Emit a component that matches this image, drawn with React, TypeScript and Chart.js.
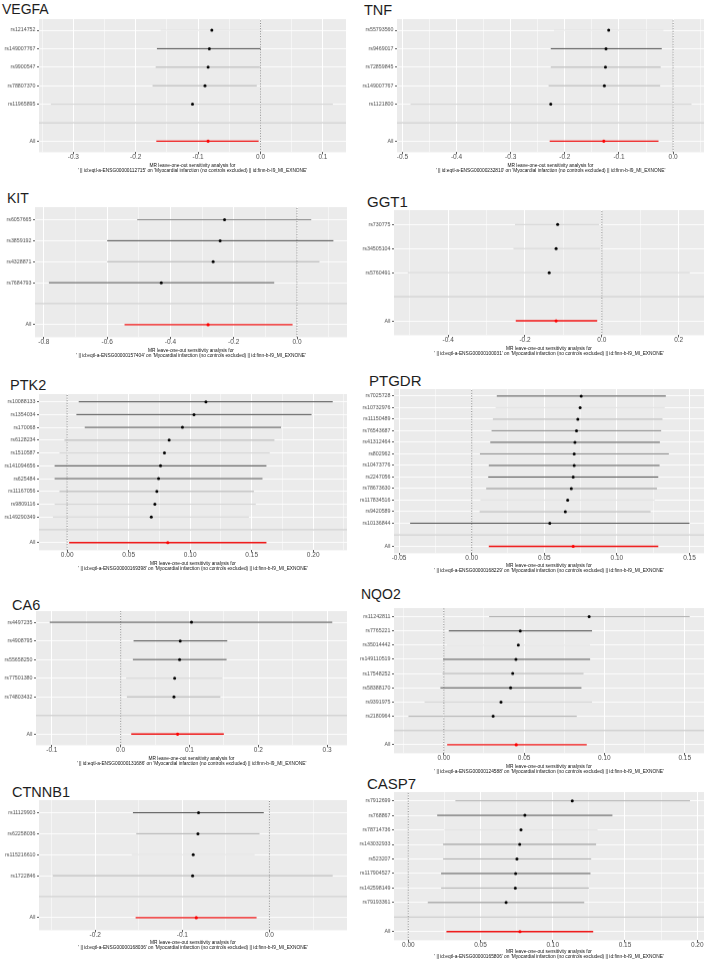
import React, { useEffect, useRef } from "react";
import { Chart, registerables } from "chart.js";
Chart.register(...registerables);

const FONT = "'Liberation Sans', Arial, Helvetica, sans-serif";

// ---------------- DATA ----------------
// VEGFA
const VEGFA_SNPS = ["rs1214752", "rs149007767", "rs9900547", "rs78807370", "rs11965895"];
const VEGFA_EST = [-0.078, -0.082, -0.084, -0.089, -0.109];
const VEGFA_LO = [-0.16, -0.166, -0.168, -0.173, -0.336];
const VEGFA_HI = [0.004, 0.0, -0.001, -0.006, 0.116];
const VEGFA_ALL = [-0.084, -0.167, -0.003];
const VEGFA_XTICKS = [-0.3, -0.2, -0.1, 0, 0.1];
const VEGFA_XRANGE = [-0.355, 0.137];

// TNF
const TNF_SNPS = ["rs55793560", "rs9469017", "rs72859845", "rs149007767", "rs1121800"];
const TNF_EST = [-0.119, -0.124, -0.125, -0.127, -0.226];
const TNF_LO = [-0.22, -0.226, -0.226, -0.23, -0.485];
const TNF_HI = [-0.018, -0.021, -0.023, -0.024, 0.034];
const TNF_ALL = [-0.128, -0.228, -0.027];
const TNF_XTICKS = [-0.5, -0.4, -0.3, -0.2, -0.1, 0];
const TNF_XRANGE = [-0.51, 0.057];

// KIT
const KIT_SNPS = ["rs6057665", "rs3859192", "rs4328871", "rs7684793"];
const KIT_EST = [-0.229, -0.243, -0.265, -0.429];
const KIT_LO = [-0.505, -0.6, -0.6, -0.784];
const KIT_HI = [0.045, 0.115, 0.071, -0.072];
const KIT_ALL = [-0.281, -0.545, -0.014];
const KIT_XTICKS = [-0.8, -0.6, -0.4, -0.2, 0];
const KIT_XRANGE = [-0.828, 0.158];

// GGT1
const GGT1_SNPS = ["rs730775", "rs34505104", "rs5760491"];
const GGT1_EST = [-0.115, -0.119, -0.137];
const GGT1_LO = [-0.226, -0.23, -0.505];
const GGT1_HI = [-0.007, -0.004, 0.229];
const GGT1_ALL = [-0.119, -0.224, -0.012];
const GGT1_XTICKS = [-0.4, -0.2, 0, 0.2];
const GGT1_XRANGE = [-0.541, 0.266];

// PTK2
const PTK2_SNPS = ["rs10088133", "rs1354034", "rs170068", "rs6128234", "rs1510587", "rs141094656", "rs625484", "rs11167056", "rs9809116", "rs149290349"];
const PTK2_EST = [0.1128, 0.1031, 0.0937, 0.0829, 0.0791, 0.0759, 0.0743, 0.0729, 0.0713, 0.0684];
const PTK2_LO = [0.0094, 0.0075, 0.0143, -0.0022, -0.0062, -0.0102, -0.0102, -0.0062, -0.0102, -0.0116];
const PTK2_HI = [0.2159, 0.1987, 0.1739, 0.1685, 0.1647, 0.162, 0.1588, 0.1518, 0.1534, 0.1478];
const PTK2_ALL = [0.0818, 0.0016, 0.162];
const PTK2_XTICKS = [0, 0.05, 0.1, 0.15, 0.2];
const PTK2_XRANGE = [-0.0229, 0.2275];

// PTGDR
const PTGDR_SNPS = ["rs7025728", "rs10732976", "rs11150489", "rs76543687", "rs41312464", "rs802962", "rs10473776", "rs2247056", "rs78673630", "rs117834516", "rs9420589", "rs10136844"];
const PTGDR_EST = [0.0754, 0.0747, 0.0731, 0.0722, 0.0711, 0.0706, 0.0706, 0.0699, 0.0686, 0.0661, 0.0645, 0.0538];
const PTGDR_LO = [0.0173, 0.0165, 0.0146, 0.0137, 0.0128, 0.0057, 0.0118, 0.0114, 0.01, 0.006, 0.0055, -0.0424];
const PTGDR_HI = [0.1337, 0.133, 0.1314, 0.1305, 0.1296, 0.1358, 0.1294, 0.1285, 0.1276, 0.126, 0.1232, 0.15];
const PTGDR_ALL = [0.0699, 0.0118, 0.1285];
const PTGDR_XTICKS = [-0.05, 0, 0.05, 0.1, 0.15];
const PTGDR_XRANGE = [-0.0535, 0.16];

// CA6
const CA6_SNPS = ["rs4497235", "rs4908795", "rs55658250", "rs77501380", "rs74803432"];
const CA6_EST = [0.103, 0.0866, 0.0857, 0.0785, 0.0775];
const CA6_LO = [-0.103, 0.0188, 0.0178, 0.008, 0.0091];
const CA6_HI = [0.3076, 0.155, 0.154, 0.148, 0.1449];
const CA6_ALL = [0.0828, 0.0154, 0.15];
const CA6_XTICKS = [-0.1, 0, 0.1, 0.2, 0.3];
const CA6_XRANGE = [-0.123, 0.329];

// NQO2
const NQO2_SNPS = ["rs11242811", "rs7765221", "rs35014442", "rs149110519", "rs17548252", "rs58388170", "rs9391975", "rs2180964"];
const NQO2_EST = [0.0905, 0.0476, 0.0464, 0.0449, 0.0429, 0.0416, 0.0356, 0.0307];
const NQO2_LO = [0.0282, 0.0031, 0.002, -0.0004, -0.0008, -0.0021, -0.012, -0.022];
const NQO2_HI = [0.1531, 0.0923, 0.091, 0.0911, 0.087, 0.0857, 0.0923, 0.0828];
const NQO2_ALL = [0.0451, 0.0021, 0.089];
const NQO2_XTICKS = [0, 0.05, 0.1, 0.15];
const NQO2_XRANGE = [-0.031, 0.162];

// CTNNB1
const CTNNB1_SNPS = ["rs11129903", "rs62258036", "rs115216610", "rs1722846"];
const CTNNB1_EST = [-0.0814, -0.0821, -0.0875, -0.0882];
const CTNNB1_LO = [-0.1567, -0.1529, -0.158, -0.2487];
const CTNNB1_HI = [-0.0065, -0.0114, -0.017, 0.0726];
const CTNNB1_ALL = [-0.084, -0.1536, -0.0148];
const CTNNB1_XTICKS = [-0.2, -0.1, 0];
const CTNNB1_XRANGE = [-0.2645, 0.089];

// CASP7
const CASP7_SNPS = ["rs7912699", "rs768867", "rs78714736", "rs143032933", "rs523207", "rs117904527", "rs142598149", "rs79193361"];
const CASP7_EST = [0.1135, 0.0807, 0.078, 0.0771, 0.0752, 0.0743, 0.0741, 0.0677];
const CASP7_LO = [0.0326, 0.02, 0.025, 0.0241, 0.0241, 0.0227, 0.0227, 0.0135];
const CASP7_HI = [0.195, 0.1413, 0.131, 0.13, 0.1266, 0.1261, 0.125, 0.1218];
const CASP7_ALL = [0.0773, 0.0264, 0.128];
const CASP7_XTICKS = [0, 0.05, 0.1, 0.15, 0.2];
const CASP7_XRANGE = [-0.0099, 0.2047];

// ---------------- STYLES / LAYOUT ----------------
const SHADES: Record<string, string> = {
  d: "#4f4f4f",
  m: "#8a8a8a",
  l: "#b0b0b0",
  f: "#d4d4d4",
  n: "#e3e3e3",
};

type PanelCfg = {
  name: string;
  ensg: string;
  snps: string[];
  est: number[];
  lo: number[];
  hi: number[];
  all: number[];
  xticks: number[];
  xrange: number[];
  decimals: number;
  shades: string[];
  col: number;
  plotLeft: number;
  plotRight: number;
  plotTop: number;
  plotBottom: number;
  caption2: number;
  titleX: number;
  titleCapTop: number;
  titleSize: number;
};

const PANELS: PanelCfg[] = [
  { name: "VEGFA", ensg: "ENSG00000112715", snps: VEGFA_SNPS, est: VEGFA_EST, lo: VEGFA_LO, hi: VEGFA_HI, all: VEGFA_ALL, xticks: VEGFA_XTICKS, xrange: VEGFA_XRANGE, decimals: 1,
    shades: ["n", "d", "l", "l", "f"], col: 0, plotLeft: 39, plotRight: 348, plotTop: 19, plotBottom: 152, caption2: 170, titleX: 2, titleCapTop: 4, titleSize: 14 },
  { name: "TNF", ensg: "ENSG00000232810", snps: TNF_SNPS, est: TNF_EST, lo: TNF_LO, hi: TNF_HI, all: TNF_ALL, xticks: TNF_XTICKS, xrange: TNF_XRANGE, decimals: 1,
    shades: ["n", "d", "l", "l", "f"], col: 1, plotLeft: 397, plotRight: 706, plotTop: 19, plotBottom: 152, caption2: 170, titleX: 364, titleCapTop: 5, titleSize: 14.5 },
  { name: "KIT", ensg: "ENSG00000157404", snps: KIT_SNPS, est: KIT_EST, lo: KIT_LO, hi: KIT_HI, all: KIT_ALL, xticks: KIT_XTICKS, xrange: KIT_XRANGE, decimals: 1,
    shades: ["m", "d", "l", "d"], col: 0, plotLeft: 35, plotRight: 349, plotTop: 207, plotBottom: 337, caption2: 355, titleX: 7, titleCapTop: 193, titleSize: 14 },
  { name: "GGT1", ensg: "ENSG00000100031", snps: GGT1_SNPS, est: GGT1_EST, lo: GGT1_LO, hi: GGT1_HI, all: GGT1_ALL, xticks: GGT1_XTICKS, xrange: GGT1_XRANGE, decimals: 1,
    shades: ["f", "f", "f"], col: 1, plotLeft: 394, plotRight: 706, plotTop: 210, plotBottom: 335, caption2: 353, titleX: 367, titleCapTop: 196, titleSize: 15 },
  { name: "PTK2", ensg: "ENSG00000169398", snps: PTK2_SNPS, est: PTK2_EST, lo: PTK2_LO, hi: PTK2_HI, all: PTK2_ALL, xticks: PTK2_XTICKS, xrange: PTK2_XRANGE, decimals: 2,
    shades: ["d", "d", "d", "l", "f", "d", "d", "l", "f", "f"], col: 0, plotLeft: 39, plotRight: 349, plotTop: 394, plotBottom: 550, caption2: 568, titleX: 10, titleCapTop: 380, titleSize: 14.5 },
  { name: "PTGDR", ensg: "ENSG00000168229", snps: PTGDR_SNPS, est: PTGDR_EST, lo: PTGDR_LO, hi: PTGDR_HI, all: PTGDR_ALL, xticks: PTGDR_XTICKS, xrange: PTGDR_XRANGE, decimals: 2,
    shades: ["d", "n", "l", "m", "d", "m", "d", "d", "m", "n", "l", "d"], col: 1, plotLeft: 394, plotRight: 706, plotTop: 389, plotBottom: 553, caption2: 570, titleX: 369, titleCapTop: 375, titleSize: 15 },
  { name: "CA6", ensg: "ENSG00000131686", snps: CA6_SNPS, est: CA6_EST, lo: CA6_LO, hi: CA6_HI, all: CA6_ALL, xticks: CA6_XTICKS, xrange: CA6_XRANGE, decimals: 1,
    shades: ["d", "d", "d", "f", "l"], col: 0, plotLeft: 36, plotRight: 349, plotTop: 611, plotBottom: 745, caption2: 763, titleX: 12, titleCapTop: 600, titleSize: 14.5 },
  { name: "NQO2", ensg: "ENSG00000124588", snps: NQO2_SNPS, est: NQO2_EST, lo: NQO2_LO, hi: NQO2_HI, all: NQO2_ALL, xticks: NQO2_XTICKS, xrange: NQO2_XRANGE, decimals: 2,
    shades: ["l", "d", "n", "d", "l", "d", "f", "l"], col: 1, plotLeft: 394, plotRight: 706, plotTop: 608, plotBottom: 753, caption2: 771, titleX: 361, titleCapTop: 589, titleSize: 14 },
  { name: "CTNNB1", ensg: "ENSG00000168036", snps: CTNNB1_SNPS, est: CTNNB1_EST, lo: CTNNB1_LO, hi: CTNNB1_HI, all: CTNNB1_ALL, xticks: CTNNB1_XTICKS, xrange: CTNNB1_XRANGE, decimals: 1,
    shades: ["d", "l", "n", "l"], col: 0, plotLeft: 39, plotRight: 349, plotTop: 800, plotBottom: 930, caption2: 947, titleX: 12, titleCapTop: 787, titleSize: 14.5 },
  { name: "CASP7", ensg: "ENSG00000165806", snps: CASP7_SNPS, est: CASP7_EST, lo: CASP7_LO, hi: CASP7_HI, all: CASP7_ALL, xticks: CASP7_XTICKS, xrange: CASP7_XRANGE, decimals: 2,
    shades: ["l", "d", "n", "m", "l", "d", "l", "m"], col: 1, plotLeft: 394, plotRight: 706, plotTop: 792, plotBottom: 940, caption2: 956, titleX: 367, titleCapTop: 778, titleSize: 15 },
];

const bgPlugin = {
  id: "panelBg",
  beforeDraw(chart: any) {
    const { ctx, chartArea: a } = chart;
    ctx.save();
    ctx.fillStyle = "#EBEBEB";
    ctx.fillRect(a.left, a.top, a.right - a.left, a.bottom - a.top);
    ctx.restore();
  },
};

function ForestPanel({ cfg }: { cfg: PanelCfg }) {
  const ref = useRef<HTMLCanvasElement | null>(null);
  const canvasLeft = cfg.col === 0 ? 0 : 354;
  const padTop = 10;
  const padRight = 2;
  const yAxisW = cfg.plotLeft - canvasLeft;
  const xAxisH = cfg.caption2 - cfg.plotBottom + 2.6;
  const canvasW = cfg.plotRight + padRight - canvasLeft;
  const canvasH = padTop + (cfg.plotBottom - cfg.plotTop) + xAxisH;
  const canvasTop = cfg.plotTop - padTop;

  useEffect(() => {
    const n = cfg.snps.length;
    const yMin = 0.4;
    const yMax = n + 2.6;
    const [xMin, xMax] = cfg.xrange;
    const step = cfg.xticks[1] - cfg.xticks[0];
    const isMajor = (v: number) => cfg.xticks.some((t) => Math.abs(t - v) < step * 1e-4);
    const allX: number[] = [...cfg.xticks];
    const minors = [cfg.xticks[0] - step / 2, ...cfg.xticks.map((t) => t + step / 2)];
    minors.forEach((m) => {
      if (m >= xMin && m <= xMax) allX.push(m);
    });
    allX.sort((a, b) => a - b);
    const fmt = (v: number) => (Math.abs(v) < 1e-9 ? 0 : v).toFixed(cfg.decimals);
    const yOf = (i: number) => n + 2 - i;
    const yVals: number[] = [];
    for (let k = 1; k <= n + 2; k++) yVals.push(k);
    const labelFor = (v: number) => {
      const r = Math.round(v);
      if (r === 1) return "All";
      if (r === 2) return "";
      return cfg.snps[n + 2 - r] ?? "";
    };

    const datasets: any[] = [];
    datasets.push({
      data: cfg.est.map((e, i) => ({ x: e, y: yOf(i) })),
      showLine: false, pointRadius: 1.5, pointBackgroundColor: "#000000", pointBorderWidth: 0, order: 0,
    });
    datasets.push({
      data: [{ x: cfg.all[0], y: 1 }],
      showLine: false, pointRadius: 1.6, pointBackgroundColor: "#FF0000", pointBorderWidth: 0, order: 0,
    });
    datasets.push({
      data: [{ x: xMin, y: 2 }, { x: xMax, y: 2 }],
      showLine: true, borderColor: "#C4C4C4", borderWidth: 1, pointRadius: 0, order: 1,
    });
    cfg.snps.forEach((_, i) => {
      datasets.push({
        data: [{ x: cfg.lo[i], y: yOf(i) }, { x: cfg.hi[i], y: yOf(i) }],
        showLine: true, borderColor: SHADES[cfg.shades[i]], borderWidth: 1, pointRadius: 0, order: 2,
      });
    });
    datasets.push({
      data: [{ x: cfg.all[1], y: 1 }, { x: cfg.all[2], y: 1 }],
      showLine: true, borderColor: "#F01010", borderWidth: 1.4, pointRadius: 0, order: 2,
    });
    datasets.push({
      data: [{ x: 0, y: yMin }, { x: 0, y: yMax }],
      showLine: true, borderColor: "#555555", borderWidth: 0.8, borderDash: [1, 1.6], pointRadius: 0, order: 3,
    });

    const chart = new Chart(ref.current as HTMLCanvasElement, {
      type: "scatter",
      data: { datasets },
      plugins: [bgPlugin],
      options: {
        animation: false,
        responsive: false,
        devicePixelRatio: 1,
        events: [],
        layout: { padding: { top: padTop, right: padRight, bottom: 0, left: 0 } },
        plugins: { legend: { display: false }, tooltip: { enabled: false }, title: { display: false } },
        scales: {
          x: {
            type: "linear",
            position: "bottom",
            min: xMin,
            max: xMax,
            afterBuildTicks: (s: any) => {
              s.ticks = allX.map((v) => ({ value: v }));
            },
            afterFit: (s: any) => {
              s.height = xAxisH;
            },
            ticks: {
              autoSkip: false,
              maxRotation: 0,
              minRotation: 0,
              padding: 0,
              color: "#4D4D4D",
              font: { size: 6.5, family: FONT, lineHeight: 1 },
              callback: (v: any) => (isMajor(Number(v)) ? fmt(Number(v)) : ""),
            },
            grid: {
              color: "#FFFFFF",
              lineWidth: (ctx: any) => (ctx.tick && isMajor(ctx.tick.value) ? 1 : 0.5),
              tickLength: 2,
              tickColor: (ctx: any) => (ctx.tick && isMajor(ctx.tick.value) ? "#333333" : "rgba(0,0,0,0)"),
              tickWidth: 0.8,
            },
            border: { display: false },
            title: {
              display: true,
              text: [
                "MR leave-one-out sensitivity analysis for",
                `' || id:eqtl-a-${cfg.ensg}' on 'Myocardial infarction (no controls excluded) || id:finn-b-I9_MI_EXNONE'`,
              ],
              color: "#111111",
              font: { size: 4.8, family: FONT, lineHeight: 1.05 },
              padding: 0,
            },
          },
          y: {
            type: "linear",
            min: yMin,
            max: yMax,
            afterBuildTicks: (s: any) => {
              s.ticks = yVals.map((v) => ({ value: v }));
            },
            afterFit: (s: any) => {
              s.width = yAxisW;
            },
            ticks: {
              autoSkip: false,
              padding: 1.5,
              color: "#4D4D4D",
              font: { size: 5.3, family: FONT, lineHeight: 1 },
              callback: (v: any) => labelFor(Number(v)),
            },
            grid: {
              color: "#FFFFFF",
              lineWidth: 0.9,
              tickLength: 2,
              tickColor: (ctx: any) => (ctx.tick && Math.round(ctx.tick.value) === 2 ? "rgba(0,0,0,0)" : "#333333"),
              tickWidth: 0.8,
            },
            border: { display: false },
          },
        },
      } as any,
    });
    return () => chart.destroy();
  }, []);

  return (
    <>
      <div
        style={{
          position: "absolute",
          left: cfg.titleX,
          top: cfg.titleCapTop - 0.158 * cfg.titleSize,
          fontFamily: FONT,
          fontSize: cfg.titleSize,
          lineHeight: `${cfg.titleSize}px`,
          color: "#1e1e1e",
          whiteSpace: "nowrap",
        }}
      >
        {cfg.name}
      </div>
      <canvas
        ref={ref}
        width={canvasW}
        height={canvasH}
        style={{ position: "absolute", left: canvasLeft, top: canvasTop, width: canvasW, height: canvasH }}
      />
    </>
  );
}

export default function App() {
  return (
    <div style={{ position: "absolute", left: 0, top: 0, width: 708, height: 961, background: "#ffffff", overflow: "hidden" }}>
      {PANELS.map((p) => (
        <ForestPanel key={p.name} cfg={p} />
      ))}
    </div>
  );
}
